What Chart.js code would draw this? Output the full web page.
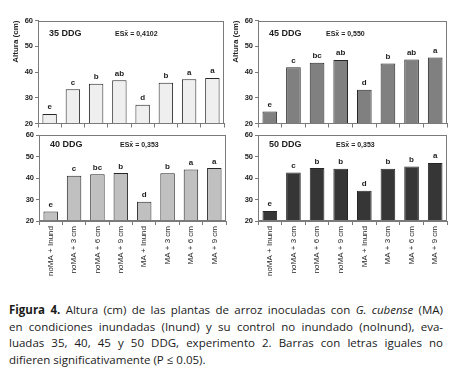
<!DOCTYPE html>
<html><head><meta charset="utf-8">
<script src="https://cdn.jsdelivr.net/npm/chart.js@4"></script>
<style>
body{margin:0;background:#fff;width:454px;height:369px;overflow:hidden;position:relative}
.p{position:absolute}
#cap{position:absolute;left:9px;top:302px;width:434px;font-family:"Open Sans",sans-serif;font-size:11.5px;color:#1a1a1a;line-height:16.5px}
.l{text-align:justify;text-align-last:justify;white-space:nowrap}
.l4{white-space:nowrap}
</style></head><body>
<div class="p" style="left:0;top:0;width:230px;height:130px"><canvas id="k35"></canvas></div>
<div class="p" style="left:222px;top:0;width:232px;height:130px"><canvas id="k45"></canvas></div>
<div class="p" style="left:0;top:125px;width:230px;height:156px"><canvas id="k40"></canvas></div>
<div class="p" style="left:222px;top:125px;width:232px;height:156px"><canvas id="k50"></canvas></div>
<div id="cap">
<div class="l"><b>Figura 4.</b> Altura (cm) de las plantas de arroz inoculadas con <i>G. cubense</i> (MA)</div>
<div class="l">en condiciones inundadas (Inund) y su control no inundado (noInund), eva-</div>
<div class="l">luadas 35, 40, 45 y 50 DDG, experimento 2. Barras con letras iguales no</div>
<div class="l4">difieren significativamente (P ≤ 0.05).</div>
</div>
<script>
const categories = ["noMA + Inund","noMA + 3 cm","noMA + 6 cm","noMA + 9 cm","MA + Inund","MA + 3 cm","MA + 6 cm","MA + 9 cm"];
const altura35 = [23.7, 33.3, 35.4, 36.8, 27.3, 35.8, 37.2, 37.7];
const letras35 = ["e","c","b","ab","d","b","a","a"];
const altura40 = [24.4, 41.0, 41.8, 42.3, 29.0, 42.2, 44.0, 44.6];
const letras40 = ["e","c","bc","b","d","b","a","a"];
const altura45 = [24.7, 41.8, 43.6, 44.7, 33.1, 43.3, 44.9, 45.6];
const letras45 = ["e","c","bc","ab","d","b","ab","a"];
const altura50 = [24.7, 42.6, 44.6, 44.3, 34.1, 44.3, 45.3, 47.0];
const letras50 = ["e","c","b","b","d","b","b","a"];
const yMin = 20, yMax = 60, yStep = 10;
const yTitle = "Altura (cm)";

const FONT = "'Liberation Sans', Arial, sans-serif";
const TXT = "#1e1e1e";
const FRAME = "#7a7a7a";

const framePlugin = {
  id: 'frame',
  afterDatasetsDraw(chart) {
    const {ctx, chartArea: a} = chart;
    ctx.save();
    ctx.strokeStyle = FRAME; ctx.lineWidth = 1;
    ctx.strokeRect(Math.round(a.left) + 0.5, Math.round(a.top) + 0.5, Math.round(a.right - a.left) - 1, Math.round(a.bottom - a.top) - 1);
    ctx.restore();
  }
};
const labelPlugin = {
  id: 'labels',
  afterDraw(chart, args, o) {
    const {ctx, chartArea: a} = chart;
    ctx.save();
    ctx.fillStyle = TXT;
    ctx.textBaseline = 'middle';
    ctx.textAlign = 'left';
    ctx.font = "bold 9px " + FONT;
    ctx.fillText(o.title, a.left + 11, a.top + o.dy);
    ctx.font = "bold 7px " + FONT;
    ctx.fillText(o.es, a.left + o.esx, a.top + o.dy);
    ctx.font = "bold 8px " + FONT;
    ctx.textAlign = 'center';
    ctx.textBaseline = 'alphabetic';
    const meta = chart.getDatasetMeta(0);
    meta.data.forEach((bar, i) => {
      ctx.fillText(o.letters[i], bar.x, bar.y - 4.5);
    });
    ctx.restore();
  }
};

function make(id, values, letters, color, opts) {
  new Chart(document.getElementById(id), {
    type: 'bar',
    data: { labels: categories, datasets: [{ data: values, backgroundColor: color, borderColor: "#262626", borderWidth: 1, barPercentage: 0.62, categoryPercentage: 1 }] },
    plugins: [framePlugin, labelPlugin],
    options: {
      responsive: true, maintainAspectRatio: false, animation: false,
      layout: { padding: { left: 0, right: opts.padR, top: opts.padT, bottom: opts.padB } },
      plugins: {
        legend: { display: false }, tooltip: { enabled: false },
        labels: { title: opts.title, es: opts.es, esx: opts.esx, dy: opts.dy, letters: letters }
      },
      scales: {
        x: {
          grid: { display: true, drawOnChartArea: false, drawTicks: true, tickLength: 4, color: FRAME },
          border: { color: FRAME },
          ticks: { display: opts.xLabels, minRotation: 90, maxRotation: 90, autoSkip: false, padding: 1, color: TXT, font: { family: FONT, size: 8 } },
          afterFit(s) { s.height = opts.xH; }
        },
        y: {
          min: yMin, max: yMax,
          grid: { drawOnChartArea: false, drawTicks: true, tickLength: 3, color: FRAME },
          border: { color: FRAME },
          ticks: { stepSize: yStep, padding: 2, color: TXT, font: { family: FONT, size: 7.5, weight: 'bold' } },
          title: { display: opts.yTitle, text: yTitle, align: 'end', color: TXT, font: { family: FONT, size: 8, weight: 'bold' }, padding: { top: opts.titlePad, bottom: 0 } },
          afterFit(s) { s.width = opts.yW; }
        }
      }
    }
  });
}

make('k35', altura35, letras35, "#efefef", { padR: 6, padT: 20.5, padB: 2, xH: 4, xLabels: false, yW: 38, yTitle: true, titlePad: 11, title: "35 DDG", es: "ESx\u0304 = 0,4102", esx: 77, dy: 13.5 });
make('k45', altura45, letras45, "#808080", { padR: 7, padT: 20.5, padB: 2, xH: 4, xLabels: false, yW: 36, yTitle: true, titlePad: 9, title: "45 DDG", es: "ESx\u0304 = 0,550", esx: 68, dy: 13.5 });
make('k40', altura40, letras40, "#c0c0c0", { padR: 4, padT: 10, padB: 0, xH: 60, xLabels: true, yW: 39, yTitle: false, titlePad: 0, title: "40 DDG", es: "ESx\u0304 = 0,353", esx: 81, dy: 10 });
make('k50', altura50, letras50, "#363636", { padR: 7, padT: 10, padB: 0, xH: 60, xLabels: true, yW: 36, yTitle: false, titlePad: 0, title: "50 DDG", es: "ESx\u0304 = 0,353", esx: 78, dy: 10 });
</script>
</body></html>
